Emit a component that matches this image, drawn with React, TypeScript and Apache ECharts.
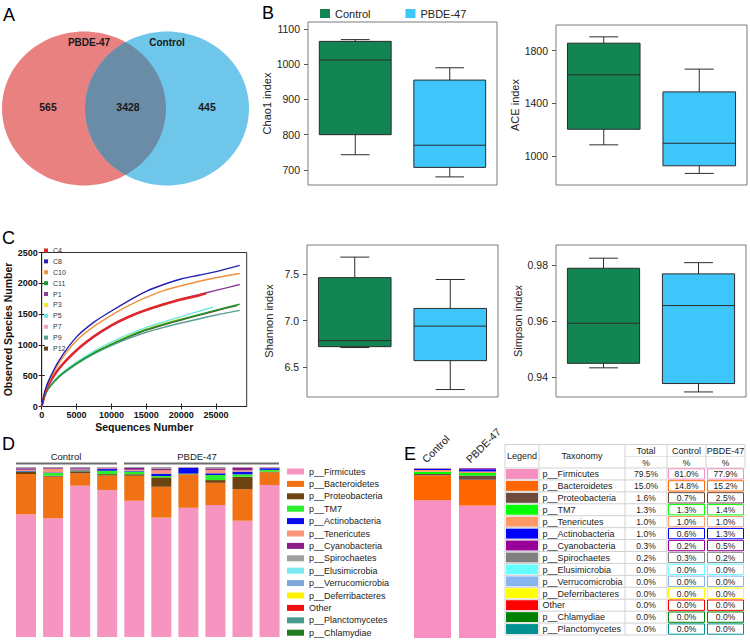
import React, { useEffect, useRef } from "react";
import * as echarts from "echarts";

const FONT = "'Liberation Sans', Arial, Helvetica, sans-serif";

// ---------- Panel A (Venn) ----------
const vennSets = ["PBDE-47", "Control"];
const vennCounts = [565, 3428, 445]; // PBDE-47 only, shared, Control only

// ---------- Panel B / C box plots: [min, Q1, median, Q3, max] ----------
const groups = ["Control", "PBDE-47"];
const groupColors = ["#138553", "#3EC5FA"];
const chao1Control = [743, 800, 1012, 1065, 1070];
const chao1Pbde = [680, 707, 770, 955, 990];
const aceControl = [1085, 1203, 1617, 1857, 1905];
const acePbde = [868, 926, 1097, 1487, 1660];
const shannonControl = [6.71, 6.72, 6.785, 7.46, 7.68];
const shannonPbde = [6.26, 6.57, 6.94, 7.13, 7.44];
const simpsonControl = [0.9433, 0.9449, 0.9592, 0.9788, 0.9824];
const simpsonPbde = [0.9347, 0.9377, 0.9655, 0.9768, 0.9808];
const chao1Ticks = [700, 800, 900, 1000, 1100];
const aceTicks = [1000, 1400, 1800];
const shannonTicks = [6.5, 7.0, 7.5];
const simpsonTicks = [0.94, 0.96, 0.98];

// ---------- Panel C rarefaction ----------
const rareSamples = ["C4", "C8", "C10", "C11", "P1", "P3", "P5", "P7", "P9", "P12"];
const rareColors = ["#E0282A", "#2222B0", "#F0903A", "#1E9A2E", "#8A3C96", "#F2E43A", "#70E8E0", "#F4A0B8", "#5A9E94", "#5A4224"];
const rareC4 = [[0,0],[500,230],[1000,360],[2500,620],[5000,915],[7500,1140],[10000,1320],[12500,1460],[15000,1570],[17500,1660],[20000,1740],[22500,1800],[23600,1835]];
const rareC8 = [[0,0],[500,260],[1000,420],[2500,750],[5000,1130],[7500,1370],[10000,1550],[12500,1720],[15000,1870],[17500,1980],[20000,2070],[22500,2130],[25000,2190],[28400,2290]];
const rareC10 = [[0,0],[500,250],[1000,400],[2500,710],[5000,1070],[7500,1300],[10000,1480],[12500,1640],[15000,1770],[17500,1880],[20000,1960],[22500,2030],[25000,2090],[28400,2160]];
const rareC11 = [[0,0],[500,190],[1000,300],[2500,490],[5000,700],[7500,870],[10000,1010],[12500,1140],[15000,1250],[17500,1335],[20000,1415],[22500,1490],[25000,1565],[28400,1660]];
const rareP1 = [[0,0],[500,228],[1000,356],[2500,612],[5000,905],[7500,1130],[10000,1310],[12500,1450],[15000,1565],[17500,1660],[20000,1745],[22500,1815],[25000,1885],[28400,1980]];
const rareP3 = [[0,0],[500,192],[1000,302],[2500,495],[5000,708],[7500,880],[10000,1020],[12500,1150],[15000,1260],[17500,1345],[20000,1420],[21000,1445]];
const rareP5 = [[0,0],[500,195],[1000,306],[2500,502],[5000,720],[7500,900],[10000,1045],[12500,1175],[15000,1285],[17500,1375],[20000,1460],[22500,1545],[24600,1612]];
const rareP7 = [[0,0],[500,225],[1000,352],[2500,605],[5000,900],[7500,1125],[10000,1305],[12500,1445],[15000,1555],[17500,1645],[20000,1725],[22300,1790]];
const rareP9 = [[0,0],[500,186],[1000,295],[2500,480],[5000,688],[7500,855],[10000,990],[12500,1105],[15000,1205],[17500,1285],[20000,1355],[22500,1420],[25000,1485],[28400,1560]];
const rareP12 = [[0,0],[500,188],[1000,298],[2500,486],[5000,695],[7500,865],[10000,1003],[12500,1130],[15000,1240],[17500,1325],[20000,1405],[22500,1480],[25000,1555],[28000,1640]];
const rareData = [rareC4, rareC8, rareC10, rareC11, rareP1, rareP3, rareP5, rareP7, rareP9, rareP12];
const rareDrawOrder = [5, 7, 9, 8, 6, 3, 4, 0, 2, 1];
const seqTicks = [0, 5000, 10000, 15000, 20000, 25000];

// ---------- Panel D ----------
const dSamples = ["C1", "C2", "C3", "C4", "P1", "P2", "P3", "P4", "P5", "P6"];
const dTaxa = ["p__Firmicutes", "p__Bacteroidetes", "p__Proteobacteria", "p__TM7", "p__Actinobacteria", "p__Tenericutes", "p__Cyanobacteria", "p__Spirochaetes", "p__Elusimicrobia", "p__Verrucomicrobia", "p__Deferribacteres", "Other", "p__Planctomycetes", "p__Chlamydiae"];
const dColors = ["#F595C0", "#F07214", "#6B4412", "#2BEF2B", "#0B0BEF", "#F8967A", "#8C1C8C", "#A0A0A0", "#7AE8F0", "#7EA8D8", "#FFF200", "#EE1010", "#4A9A90", "#207A20"];
const dFirmicutes = [72.2, 69.8, 89.0, 86.5, 80.2, 70.2, 76.0, 77.6, 68.4, 89.4];
const dBacteroidetes = [23.7, 24.5, 7.3, 8.5, 14.7, 18.2, 19.6, 13.1, 18.6, 7.5];
const dProteobacteria = [1.2, 0.6, 1.2, 0.8, 0.8, 5.5, 0.2, 1.6, 7.3, 0.4];
const dTM7 = [0.2, 1.6, 0.3, 2.0, 1.6, 0.8, 0.3, 3.0, 1.4, 1.0];
const dActinobacteria = [0.3, 0.3, 0.3, 1.0, 0.5, 1.4, 3.5, 1.0, 1.6, 1.0];
const dTenericutes = [0.8, 2.2, 0.5, 0.4, 0.6, 2.0, 0.2, 2.0, 0.8, 0.3];
const dCyanobacteria = [0.8, 0.4, 0.7, 0.4, 1.0, 0.8, 0.1, 0.9, 1.6, 0.2];
const dSpirochaetes = [0.8, 0.6, 0.7, 0.4, 0.6, 1.1, 0.1, 0.8, 0.3, 0.2];
const dZero = [0, 0, 0, 0, 0, 0, 0, 0, 0, 0];
const dValues = [dFirmicutes, dBacteroidetes, dProteobacteria, dTM7, dActinobacteria, dTenericutes, dCyanobacteria, dSpirochaetes, dZero, dZero, dZero, dZero, dZero, dZero];

// ---------- Panel E ----------
const eTaxa = ["p__Firmicutes", "p__Bacteroidetes", "p__Proteobacteria", "p__TM7", "p__Tenericutes", "p__Actinobacteria", "p__Cyanobacteria", "p__Spirochaetes", "p__Elusimicrobia", "p__Verrucomicrobia", "p__Deferribacteres", "Other", "p__Chlamydiae", "p__Planctomycetes"];
const eColors = ["#F78FC0", "#FF6600", "#6E4A3C", "#00FF00", "#FF9966", "#0000FF", "#990099", "#808080", "#66FFFF", "#88B4F0", "#FFFF00", "#FF0000", "#008000", "#009090"];
const eTotal = [79.5, 15.0, 1.6, 1.3, 1.0, 1.0, 0.3, 0.2, 0, 0, 0, 0, 0, 0];
const eControl = [81.0, 14.8, 0.7, 1.3, 1.0, 0.6, 0.2, 0.3, 0, 0, 0, 0, 0, 0];
const ePbde = [77.9, 15.2, 2.5, 1.4, 1.0, 1.3, 0.5, 0.2, 0, 0, 0, 0, 0, 0];
const eHeaders = ["Legend", "Taxonomy", "Total", "Control", "PBDE-47"];

// lens shape (intersection of the two Venn ellipses)
echarts.graphic.registerShape(
  "lens",
  echarts.graphic.extendPath("M125.5 42.1 A82 77 0 0 1 125.5 174.9 A82 77 0 0 1 125.5 42.1 Z", {})
);

const renderBox = (params: any, api: any) => {
  const c = api.value(0);
  const lo = api.coord([c, api.value(1)]);
  const q1 = api.coord([c, api.value(2)]);
  const md = api.coord([c, api.value(3)]);
  const q3 = api.coord([c, api.value(4)]);
  const hi = api.coord([c, api.value(5)]);
  const band = api.size([1, 0])[0];
  const bw = band * 0.76;
  const cw = bw * 0.4;
  const x = lo[0];
  const stroke = "#2b2b2b";
  const ln = (x1: number, y1: number, x2: number, y2: number) => ({
    type: "line",
    shape: { x1, y1, x2, y2 },
    style: { stroke, lineWidth: 1 },
  });
  return {
    type: "group",
    children: [
      ln(x, hi[1], x, q3[1]),
      ln(x - cw / 2, hi[1], x + cw / 2, hi[1]),
      ln(x, q1[1], x, lo[1]),
      ln(x - cw / 2, lo[1], x + cw / 2, lo[1]),
      {
        type: "rect",
        shape: { x: x - bw / 2, y: q3[1], width: bw, height: q1[1] - q3[1] },
        style: { fill: api.visual("color"), stroke, lineWidth: 1 },
      },
      ln(x - bw / 2, md[1], x + bw / 2, md[1]),
    ],
  };
};

function buildOption() {
  const boxGrids = [
    { left: 308, top: 22, width: 189, height: 163 },
    { left: 556, top: 25, width: 191, height: 160 },
    { left: 307, top: 245, width: 191, height: 152 },
    { left: 556, top: 245, width: 190, height: 152 },
  ];
  const grids: any[] = [
    { ...boxGrids[0], show: true, borderColor: "#7a7a7a", borderWidth: 1 },
    { ...boxGrids[1], show: true, borderColor: "#7a7a7a", borderWidth: 1 },
    { left: 41.7, top: 252.5, width: 205, height: 154, show: true, borderColor: "#333", borderWidth: 1 },
    { ...boxGrids[2], show: true, borderColor: "#7a7a7a", borderWidth: 1 },
    { ...boxGrids[3], show: true, borderColor: "#7a7a7a", borderWidth: 1 },
    { left: 12.5, top: 467, width: 270.6, height: 170 },
    { left: 410, top: 468, width: 90, height: 170 },
  ].map((g) => ({ ...g, containLabel: false, outerBoundsMode: "none" }));

  const catX = (gi: number) => ({
    type: "category",
    gridIndex: gi,
    data: groups,
    axisLine: { show: false },
    axisTick: { show: false },
    axisLabel: { show: false },
    splitLine: { show: false },
  });

  const boxY = (gi: number, name: string, min: number, max: number, ticks: number[], fmt: (v: number) => string) => ({
    type: "value",
    gridIndex: gi,
    min,
    max,
    name,
    nameLocation: "middle",
    nameGap: 33,
    nameRotate: 90,
    nameTextStyle: { fontSize: 11, color: "#222", fontFamily: FONT },
    axisLine: { show: false },
    splitLine: { show: false },
    axisTick: { show: true, inside: false, length: 4, customValues: ticks, lineStyle: { color: "#555" } },
    axisLabel: { customValues: ticks, fontSize: 10.5, color: "#222", fontFamily: FONT, margin: 8, formatter: fmt },
  });

  const plain = (v: number) => String(Math.round(v));

  const xAxis: any[] = [
    catX(0),
    catX(1),
    {
      type: "value",
      gridIndex: 2,
      min: 0,
      max: 29400,
      name: "Sequences Number",
      nameLocation: "middle",
      nameGap: 15,
      nameTextStyle: { fontSize: 10.5, fontWeight: "bold", color: "#111", fontFamily: FONT },
      axisLine: { show: true, lineStyle: { color: "#222" } },
      axisTick: { show: true, inside: true, length: 3, customValues: seqTicks, lineStyle: { color: "#222" } },
      axisLabel: { customValues: seqTicks, fontSize: 9, fontWeight: "bold", color: "#111", fontFamily: FONT, margin: 4, formatter: plain },
      splitLine: { show: false },
    },
    catX(3),
    catX(4),
    { type: "category", gridIndex: 5, data: dSamples, show: false },
    { type: "category", gridIndex: 6, data: groups, show: false },
    {
      type: "value",
      gridIndex: 2,
      position: "top",
      min: 0,
      max: 29400,
      axisLine: { show: false },
      axisTick: { show: true, inside: true, length: 3, customValues: seqTicks, lineStyle: { color: "#222" } },
      axisLabel: { show: false },
      splitLine: { show: false },
    },
  ];

  const yAxis: any[] = [
    boxY(0, "Chao1 index", 657, 1120, chao1Ticks, (v) => String(v)),
    boxY(1, "ACE index", 780, 1995, aceTicks, (v) => String(v)),
    {
      type: "value",
      gridIndex: 2,
      min: 0,
      max: 2500,
      interval: 500,
      name: "Observed Species Number",
      nameLocation: "middle",
      nameGap: 28,
      nameRotate: 90,
      nameTextStyle: { fontSize: 10.5, fontWeight: "bold", color: "#111", fontFamily: FONT },
      axisLine: { show: true, lineStyle: { color: "#222" } },
      axisTick: { show: true, inside: true, length: 3, lineStyle: { color: "#222" } },
      axisLabel: { fontSize: 9, fontWeight: "bold", color: "#111", fontFamily: FONT, margin: 4, formatter: plain },
      splitLine: { show: false },
    },
    boxY(3, "Shannon index", 6.18, 7.81, shannonTicks, (v) => v.toFixed(1)),
    boxY(4, "Simpson index", 0.9329, 0.9871, simpsonTicks, (v) => v.toFixed(2)),
    { type: "value", gridIndex: 5, min: 0, max: 100, show: false },
    { type: "value", gridIndex: 6, min: 0, max: 100, show: false },
    {
      type: "value",
      gridIndex: 2,
      position: "right",
      min: 0,
      max: 2500,
      interval: 500,
      axisLine: { show: false },
      axisTick: { show: true, inside: true, length: 3, lineStyle: { color: "#222" } },
      axisLabel: { show: false },
      splitLine: { show: false },
    },
  ];

  const series: any[] = [];
  const boxSets = [
    [0, chao1Control, chao1Pbde],
    [1, aceControl, acePbde],
    [3, shannonControl, shannonPbde],
    [4, simpsonControl, simpsonPbde],
  ] as any[];
  boxSets.forEach(([ai, c, p]) => {
    [c, p].forEach((vals: number[], gi: number) => {
      series.push({
        type: "custom",
        name: groups[gi],
        xAxisIndex: ai,
        yAxisIndex: ai,
        itemStyle: { color: groupColors[gi] },
        renderItem: renderBox,
        encode: { x: 0, y: [1, 2, 3, 4, 5] },
        data: [[gi, ...vals]],
      });
    });
  });

  rareDrawOrder.forEach((i) => {
    series.push({
      type: "line",
      name: rareSamples[i],
      xAxisIndex: 2,
      yAxisIndex: 2,
      data: rareData[i],
      showSymbol: false,
      smooth: 0.3,
      itemStyle: { color: rareColors[i] },
      lineStyle: { color: rareColors[i], width: i === 0 ? 2.4 : 1.4 },
    });
  });

  dTaxa.forEach((t, i) => {
    series.push({
      type: "bar",
      name: t,
      stack: "d",
      xAxisIndex: 5,
      yAxisIndex: 5,
      barWidth: 20,
      itemStyle: { color: dColors[i] },
      data: dValues[i],
    });
  });

  eTaxa.forEach((t, i) => {
    series.push({
      type: "bar",
      name: t,
      stack: "e",
      xAxisIndex: 6,
      yAxisIndex: 6,
      barWidth: 37,
      itemStyle: { color: eColors[i] },
      data: [eControl[i], ePbde[i]],
    });
  });

  // ---------- graphics ----------
  const g: any[] = [];
  const txt = (x: number, y: number, text: string, o: any = {}) => ({
    type: "text",
    x,
    y,
    style: { text, fontFamily: FONT, fontSize: 10, fill: "#1a1a1a", align: "center", verticalAlign: "middle", ...o },
  });
  // panel letters
  g.push(txt(3, 15, "A", { fontSize: 18, align: "left", fill: "#000" }));
  g.push(txt(262, 12.5, "B", { fontSize: 18, align: "left", fill: "#000" }));
  g.push(txt(2, 237.5, "C", { fontSize: 18, align: "left", fill: "#000" }));
  g.push(txt(2, 443.5, "D", { fontSize: 18, align: "left", fill: "#000" }));
  g.push(txt(404, 454, "E", { fontSize: 18, align: "left", fill: "#000" }));

  // Venn
  g.push({ type: "ellipse", shape: { cx: 84, cy: 108.5, rx: 82, ry: 77 }, style: { fill: "#E8817F" } });
  g.push({ type: "ellipse", shape: { cx: 167, cy: 108.5, rx: 82, ry: 77 }, style: { fill: "#6EC6EA" } });
  g.push({ type: "lens", x: 0, y: 0, style: { fill: "#6A8CA7" } });
  g.push(txt(89, 42, vennSets[0], { fontWeight: "bold", fontSize: 10 }));
  g.push(txt(167, 42, vennSets[1], { fontWeight: "bold", fontSize: 10 }));
  g.push(txt(48, 107, String(vennCounts[0]), { fontWeight: "bold", fontSize: 10.5 }));
  g.push(txt(128, 107, String(vennCounts[1]), { fontWeight: "bold", fontSize: 10.5 }));
  g.push(txt(207, 107, String(vennCounts[2]), { fontWeight: "bold", fontSize: 10.5 }));

  // D headers
  g.push(txt(66, 456, "Control", { fontSize: 9.5 }));
  g.push({ type: "line", shape: { x1: 16, y1: 463.5, x2: 117, y2: 463.5 }, style: { stroke: "#6d6d6d", lineWidth: 2 } });
  g.push(txt(197, 456, "PBDE-47", { fontSize: 9.5 }));
  g.push({ type: "line", shape: { x1: 124, y1: 463.5, x2: 279, y2: 463.5 }, style: { stroke: "#6d6d6d", lineWidth: 2 } });

  // E rotated labels
  g.push({ type: "text", x: 428, y: 465, rotation: Math.PI / 4, style: { text: "Control", fontFamily: FONT, fontSize: 10.5, fill: "#1a1a1a", align: "left", verticalAlign: "bottom" } });
  g.push({ type: "text", x: 472, y: 465, rotation: Math.PI / 4, style: { text: "PBDE-47", fontFamily: FONT, fontSize: 10.5, fill: "#1a1a1a", align: "left", verticalAlign: "bottom" } });

  // E table
  const colX = [505, 539, 625, 667, 706, 745];
  const headTop = 444.5;
  const headMid = 456.5;
  const headBot = 468;
  const rowH = 11.93;
  const tBot = headBot + rowH * eTaxa.length;
  const grey = "#d2d2d2";
  const hl = (x1: number, y1: number, x2: number, y2: number, c = grey) => ({
    type: "line",
    shape: { x1, y1, x2, y2 },
    style: { stroke: c, lineWidth: 1 },
  });
  g.push(hl(colX[0], headTop, colX[5], headTop));
  g.push(hl(colX[2], headMid, colX[5], headMid, "#e4e4e4"));
  g.push(hl(colX[0], headBot, colX[5], headBot));
  for (let k = 0; k < colX.length; k++) {
    g.push(hl(colX[k], headTop, colX[k], k <= 3 ? tBot : headBot));
  }
  g.push(txt((colX[0] + colX[1]) / 2, (headTop + headBot) / 2, eHeaders[0], { fontSize: 9 }));
  g.push(txt((colX[1] + colX[2]) / 2, (headTop + headBot) / 2, eHeaders[1], { fontSize: 9 }));
  for (let k = 2; k < 5; k++) {
    const cx = (colX[k] + colX[k + 1]) / 2;
    g.push(txt(cx, (headTop + headMid) / 2 + 0.5, eHeaders[k], { fontSize: 9 }));
    g.push(txt(cx, (headMid + headBot) / 2 + 0.5, "%", { fontSize: 8.5 }));
  }
  eTaxa.forEach((t, i) => {
    const y = headBot + i * rowH;
    const cy = y + rowH / 2 + 0.3;
    g.push({ type: "rect", shape: { x: colX[0] + 1, y: y + 1, width: colX[1] - colX[0] - 2, height: rowH - 2 }, style: { fill: eColors[i] } });
    g.push(hl(colX[0], y + rowH, colX[3], y + rowH));
    g.push(txt(colX[1] + 3.5, cy, t, { fontSize: 9, align: "left" }));
    g.push(txt((colX[2] + colX[3]) / 2, cy, eTotal[i].toFixed(1) + "%", { fontSize: 8.5 }));
    [3, 4].forEach((k) => {
      g.push({
        type: "rect",
        shape: { x: colX[k] + 1.5, y: y + 0.8, width: colX[k + 1] - colX[k] - 3, height: rowH - 1.6 },
        style: { fill: "none", stroke: eColors[i], lineWidth: 1 },
      });
    });
    g.push(txt((colX[3] + colX[4]) / 2, cy, eControl[i].toFixed(1) + "%", { fontSize: 8.5 }));
    g.push(txt((colX[4] + colX[5]) / 2, cy, ePbde[i].toFixed(1) + "%", { fontSize: 8.5 }));
  });

  return {
    animation: false,
    backgroundColor: "#ffffff",
    textStyle: { fontFamily: FONT },
    grid: grids,
    xAxis,
    yAxis,
    legend: [
      {
        data: groups.map((n, i) => ({ name: n, icon: "rect", itemStyle: { color: groupColors[i] } })),
        left: 320,
        top: 8,
        padding: 0,
        itemWidth: 10,
        itemHeight: 9,
        itemGap: 35,
        selectedMode: false,
        textStyle: { fontSize: 11, color: "#222", fontFamily: FONT },
      },
      {
        data: rareSamples.map((n, i) => ({ name: n, icon: "rect", itemStyle: { color: rareColors[i] } })),
        orient: "vertical",
        left: 44,
        top: 245,
        padding: 0,
        itemWidth: 4,
        itemHeight: 4,
        itemGap: 0,
        selectedMode: false,
        textStyle: { fontSize: 7, lineHeight: 10.9, color: "#333", fontFamily: FONT },
      },
      {
        data: dTaxa.map((n, i) => ({ name: n, icon: "rect", itemStyle: { color: dColors[i] } })),
        orient: "vertical",
        left: 287,
        top: 465.5,
        padding: 0,
        itemWidth: 17,
        itemHeight: 6,
        itemGap: 0.4,
        selectedMode: false,
        textStyle: { fontSize: 9, lineHeight: 12, color: "#222", fontFamily: FONT },
      },
    ],
    graphic: { elements: g },
    series,
  };
}

export default function App() {
  const ref = useRef<HTMLDivElement>(null);
  useEffect(() => {
    if (!ref.current) return;
    const chart = echarts.init(ref.current, undefined, { renderer: "svg" });
    chart.setOption(buildOption() as any);
    return () => chart.dispose();
  }, []);
  return (
    <div
      ref={ref}
      style={{ position: "absolute", left: 0, top: 0, width: 750, height: 640, background: "#fff" }}
    />
  );
}
